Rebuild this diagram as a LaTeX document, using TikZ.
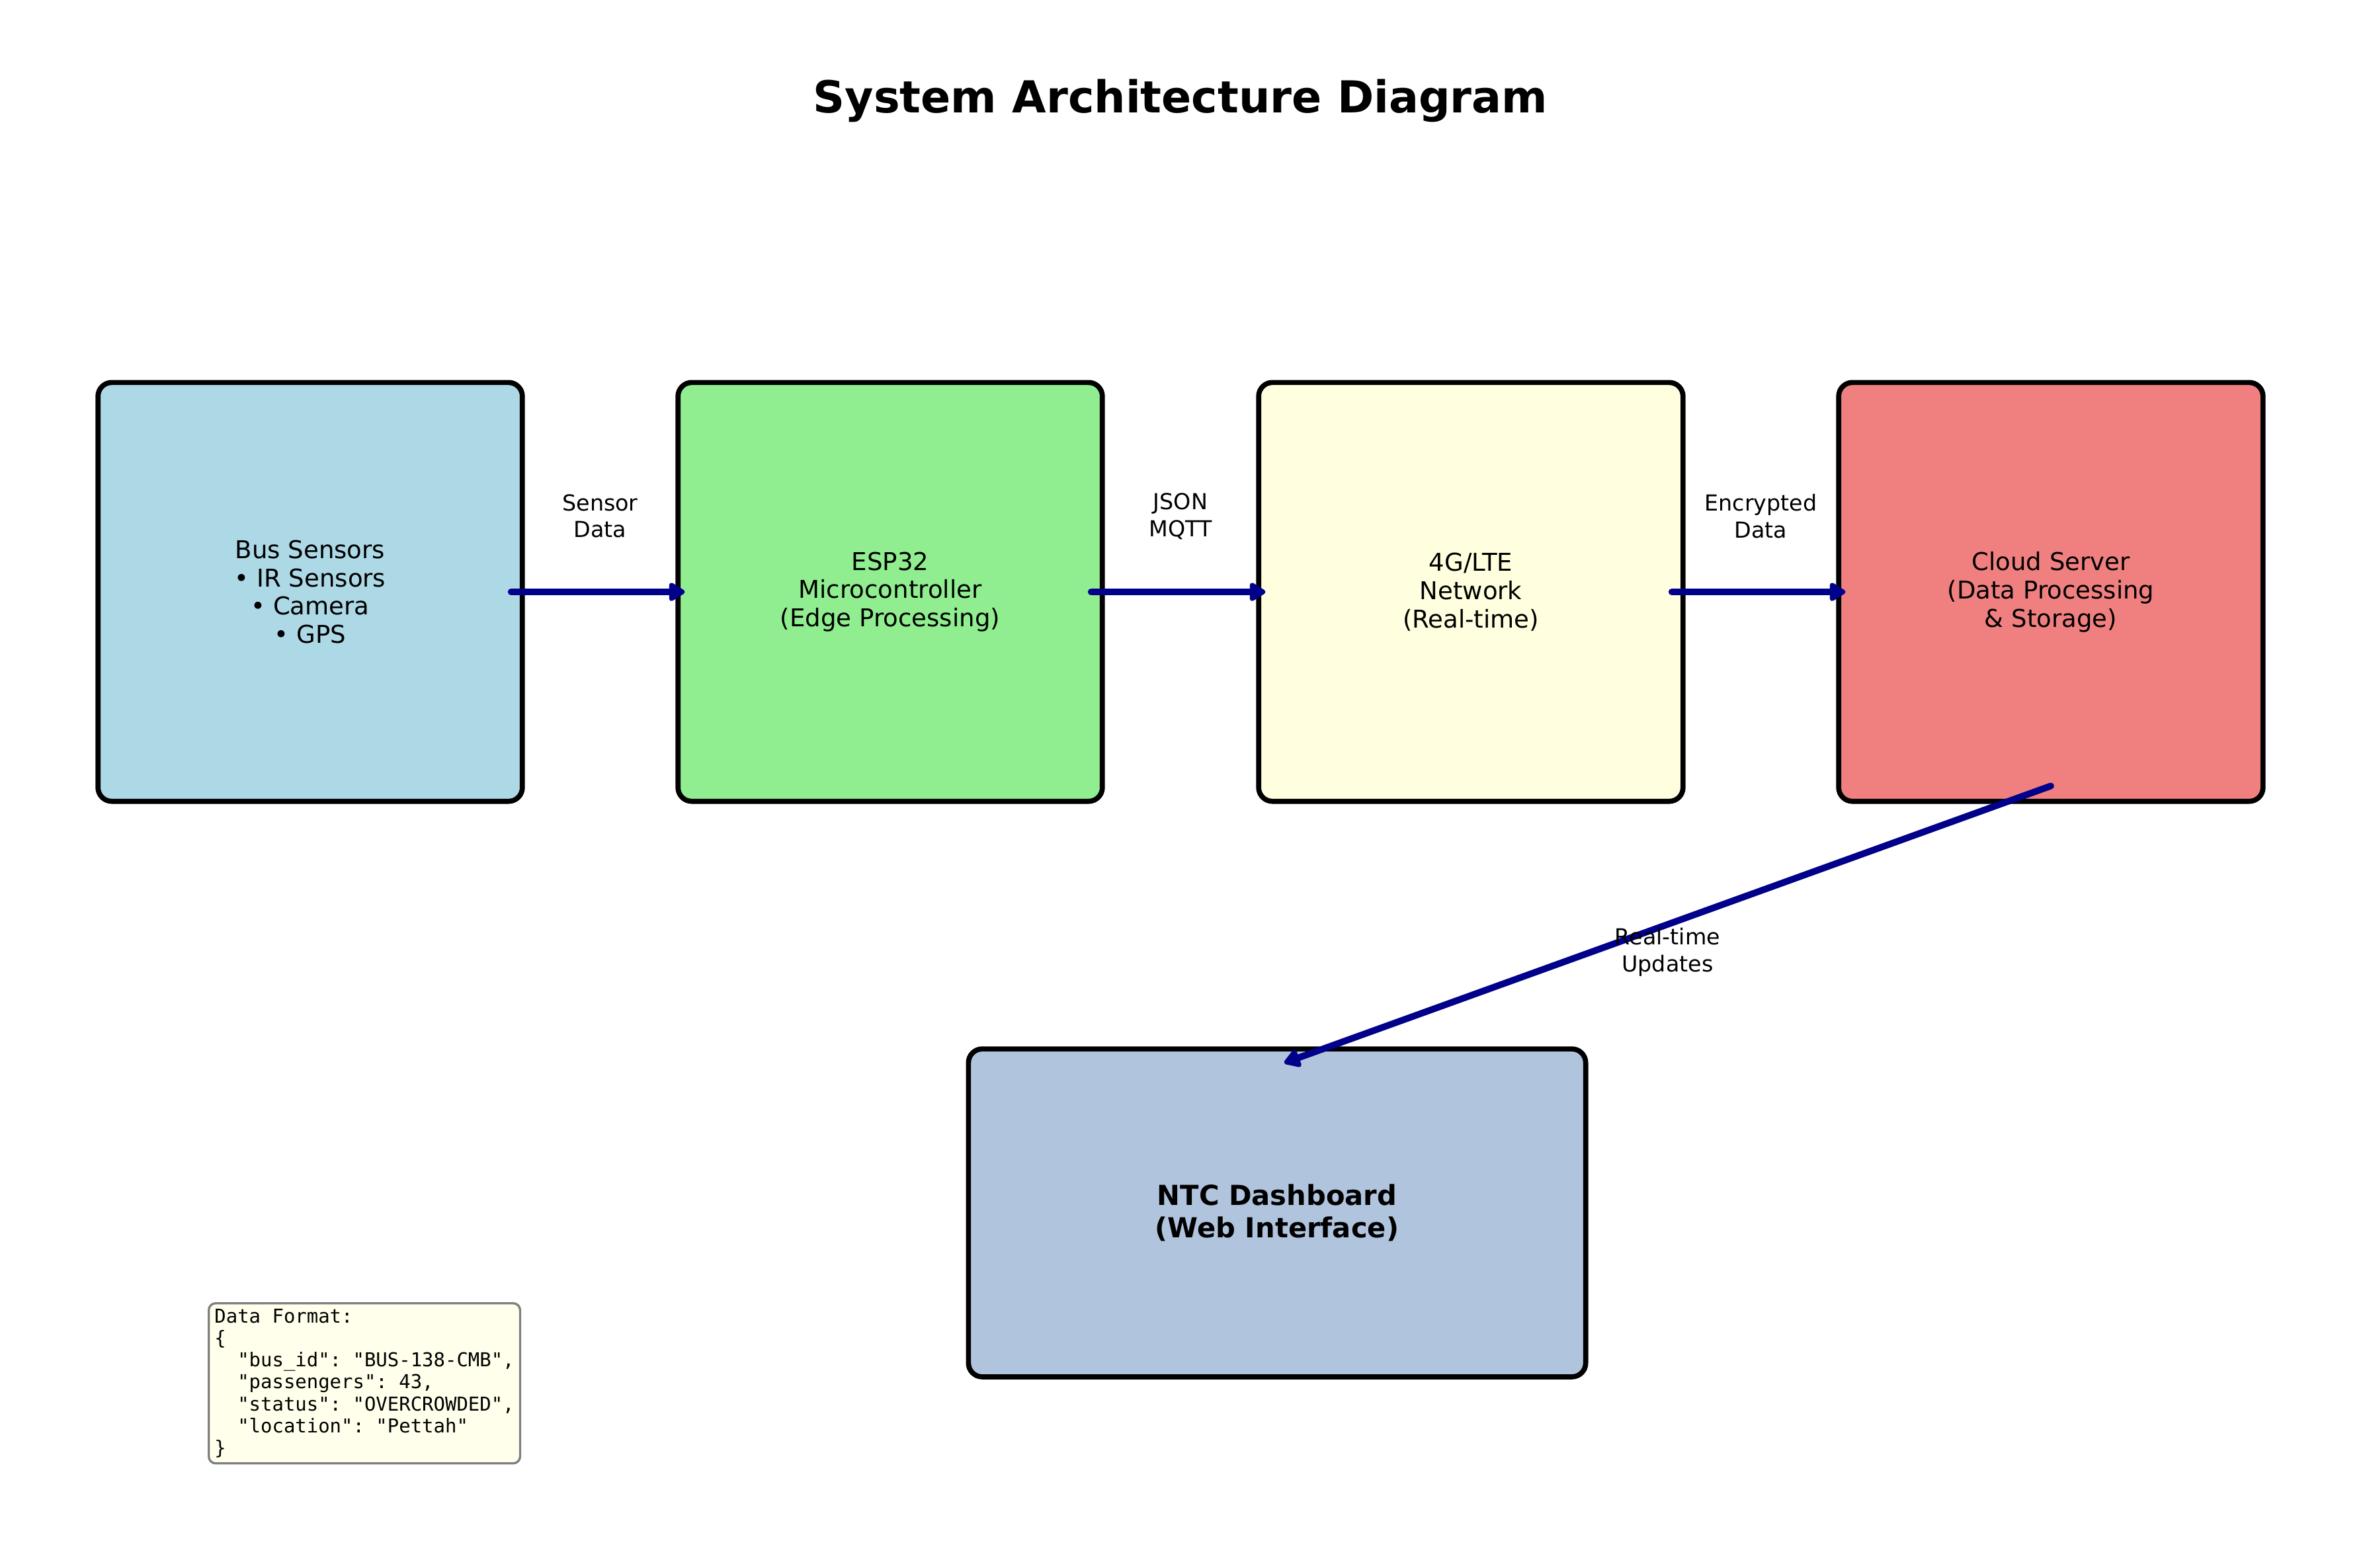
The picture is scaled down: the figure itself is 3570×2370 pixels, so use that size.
\documentclass[tikz,border=0pt]{standalone}
\usepackage{fontspec}
\setmainfont{DejaVu Sans}
\setmonofont{DejaVu Sans Mono}
\usepackage{tikz}
\usetikzlibrary{arrows.meta, positioning}
\definecolor{sensorcolor}{RGB}{173, 216, 230}
\definecolor{espcolor}{RGB}{144, 238, 144}
\definecolor{netcolor}{RGB}{255, 255, 224}
\definecolor{cloudcolor}{RGB}{240, 128, 128}
\definecolor{dashcolor}{RGB}{176, 196, 222}
\definecolor{flowcolor}{RGB}{0, 0, 139}
\definecolor{notecolor}{RGB}{255, 255, 236}

\begin{document}
\begin{tikzpicture}[
    x=0.24pt, y=-0.24pt,
    stage/.style={draw, line width=1.85pt, rounded corners=5pt, minimum width=154pt, minimum height=152pt, align=center, font=\fontsize{8.9}{10.3}\selectfont},
    flow/.style={-{Triangle[round, length=6.5pt, width=7.5pt]}, line width=2.4pt, flowcolor, line cap=round},
    flowlabel/.style={align=center, text=black, font=\fontsize{8}{9.8}\selectfont},
    notebox/.style={draw=gray, fill=notecolor, line width=0.8pt, rounded corners=2.5pt, inner sep=2.1pt, align=left, font=\ttfamily\fontsize{6.95}{7.95}\selectfont}
]
    \fill[white] (0,0) rectangle (3570,2370);
    \useasboundingbox (0,0) rectangle (3570,2370);

    % Title
    \node[font=\fontsize{16}{19}\selectfont\bfseries] (title) at (1785,152) {System Architecture Diagram};

    % Pipeline
    \node[stage, fill=sensorcolor] (sensors) at (469,895) {Bus Sensors\\• IR Sensors\\• Camera\\• GPS};
    \node[stage, fill=espcolor] (esp) at (1346,895) {ESP32\\Microcontroller\\(Edge Processing)};
    \node[stage, fill=netcolor] (network) at (2224,895) {4G/LTE\\Network\\(Real-time)};
    \node[stage, fill=cloudcolor] (cloud) at (3101,895) {Cloud Server\\(Data Processing\\\& Storage)};

    % Dashboard
    \node[stage, fill=dashcolor, minimum width=224pt, minimum height=119pt, font=\fontsize{10}{11.6}\selectfont\bfseries] (dash) at (1931,1834) {NTC Dashboard\\(Web Interface)};

    % Data format
    \node[notebox, anchor=north west] (format) at (314,1969) {Data Format:\\\{\\\ \ "bus\_id": "BUS-138-CMB",\\\ \ "passengers": 43,\\\ \ "status": "OVERCROWDED",\\\ \ "location": "Pettah"\\\}};

    % Flows
    \draw[flow, shorten <=-5pt, shorten >=-3.4pt] (sensors) -- (esp) node[flowlabel, midway, yshift=27.5pt] {Sensor\\Data};
    \draw[flow, shorten <=-5pt, shorten >=-3.4pt] (esp) -- (network) node[flowlabel, midway, yshift=27.5pt] {JSON\\MQTT};
    \draw[flow, shorten <=-5pt, shorten >=-3.4pt] (network) -- (cloud) node[flowlabel, midway, yshift=27.5pt] {Encrypted\\Data};
    \draw[flow] ([yshift=6.5pt]cloud.south) -- ([xshift=2.6pt, yshift=-6pt]dash.north) node[flowlabel, midway, yshift=-10pt] {Real-time\\Updates};

\end{tikzpicture}
\end{document}
